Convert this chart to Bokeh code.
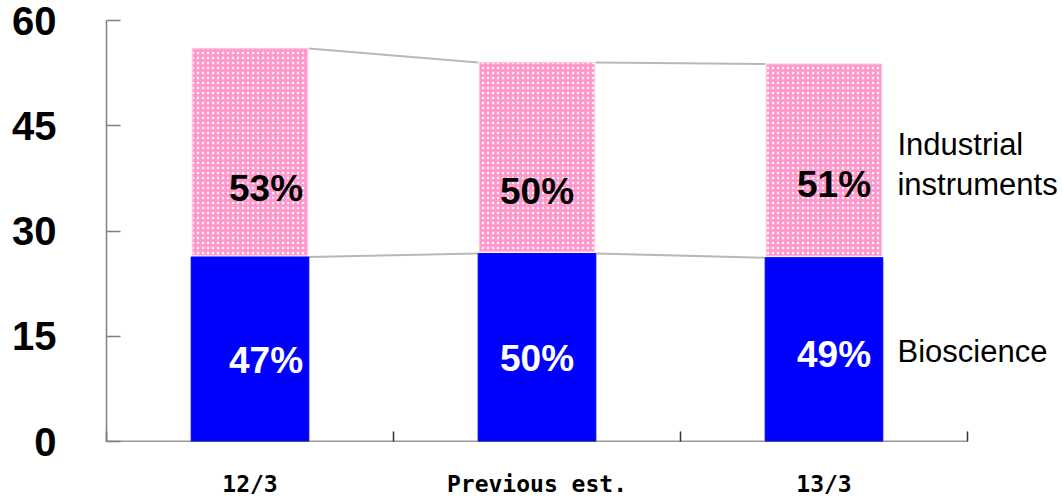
from bokeh.plotting import figure
from bokeh.models import FixedTicker, Label, Range1d
from bokeh.core.properties import value
from bokeh.embed import file_html
from bokeh.resources import INLINE

categories = ["12/3", "Previous est.", "13/3"]
bioscience = [26.3, 26.8, 26.2]
industrial = [29.7, 27.2, 27.6]
bio_pct = ["47%", "50%", "49%"]
ind_pct = ["53%", "50%", "51%"]
y_ticks = [0, 15, 30, 45, 60]

# layout constants
BAR_W = 0.41
N = len(categories)
X_END = N * 956 / 861  # extra room on the right for the series labels
centers = [i + 0.5 for i in range(N)]
totals = [b + s for b, s in zip(bioscience, industrial)]
lbl_dx = [16, 0, 10]

p = figure(width=1062, height=499, x_range=Range1d(0, X_END), y_range=Range1d(0, 60),
           output_backend="svg", toolbar_location=None,
           min_border_left=106, min_border_right=0, min_border_top=20, min_border_bottom=57)
p.outline_line_color = None
p.xgrid.visible = False
p.ygrid.visible = False
p.background_fill_color = "white"

# connecting lines
x0 = [centers[i] + BAR_W / 2 for i in range(N - 1)]
x1 = [centers[i + 1] - BAR_W / 2 for i in range(N - 1)]
p.segment(x0=x0, x1=x1, y0=totals[:-1], y1=totals[1:], line_color="#b8b8b8", line_width=2)
p.segment(x0=x0, x1=x1, y0=bioscience[:-1], y1=bioscience[1:], line_color="#b8b8b8", line_width=2)

p.vbar(x=centers, top=bioscience, bottom=0, width=BAR_W, fill_color="#0000ff",
       line_color="#0000ff", line_width=1)
p.vbar(x=centers, bottom=[b + 0.25 for b in bioscience], top=totals, width=BAR_W - 0.008,
       fill_color="#ff99cc", line_color="#ffc4e0", line_width=1,
       hatch_pattern="dot", hatch_color="white", hatch_scale=5, hatch_alpha=0.9)

# x axis baseline (only across the categories)
p.segment(x0=[0], x1=[N], y0=[0], y1=[0], line_color="#333333", line_width=1.5)

# percent labels
p.text(x=centers, y=[36.0, 35.6, 36.6], text=ind_pct, x_offset=lbl_dx,
       text_align="center", text_baseline="middle", text_color="black",
       text_font=value("Liberation Sans"), text_font_style="bold", text_font_size="37px")
p.text(x=centers, y=[11.6, 11.8, 12.4], text=bio_pct, x_offset=lbl_dx,
       text_align="center", text_baseline="middle", text_color="white",
       text_font=value("Liberation Sans"), text_font_style="bold", text_font_size="37px")

# series labels on right
for txt, yy in [("Industrial", 42.3), ("instruments", 36.6), ("Bioscience", 12.8)]:
    p.add_layout(Label(x=2.756, y=yy, text=txt, text_align="left", text_baseline="middle",
                       text_font="Liberation Sans", text_font_size="31px", text_color="black"))

# y axis
ya = p.yaxis[0]
ya.ticker = FixedTicker(ticks=y_ticks, minor_ticks=[])
ya.axis_line_color = "#808080"
ya.axis_line_width = 1.5
ya.major_tick_line_color = "#808080"
ya.major_tick_line_width = 1.5
ya.major_tick_in = 14
ya.major_tick_out = 0
ya.minor_tick_line_color = None
ya.major_label_standoff = 50
ya.major_label_text_font = "Liberation Sans"
ya.major_label_text_font_style = "bold"
ya.major_label_text_font_size = "40px"
ya.major_label_text_color = "black"

# x axis
xa = p.xaxis[0]
xa.ticker = FixedTicker(ticks=centers, minor_ticks=list(range(N + 1)))
xa.major_label_overrides = {c: lab for c, lab in zip(centers, categories)}
xa.axis_line_color = None
xa.major_tick_line_color = None
xa.minor_tick_line_color = "#333333"
xa.minor_tick_line_width = 1.5
xa.minor_tick_in = 10
xa.minor_tick_out = 0
xa.major_label_standoff = 23
xa.major_label_text_font = "DejaVu Sans Mono"
xa.major_label_text_font_style = "bold"
xa.major_label_text_font_size = "23px"
xa.major_label_text_color = "black"

open("out.html", "w").write(file_html(p, INLINE))
